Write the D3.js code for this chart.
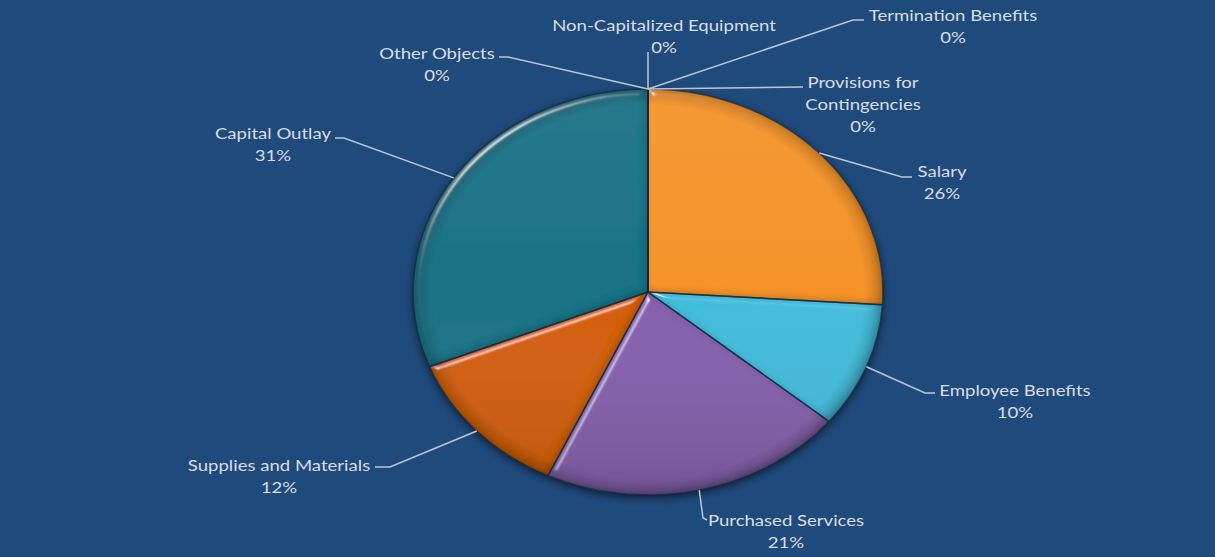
<!DOCTYPE html>
<html>
<head>
<meta charset="utf-8">
<script src="https://cdn.jsdelivr.net/npm/d3@7"></script>
<style>
  html, body { margin: 0; padding: 0; background: #1F4A7C; }
  svg { display: block; }
</style>
</head>
<body>
<svg id="chart" width="1215" height="557"></svg>
<script>
// Budget shares by object category, clockwise from 12 o'clock
const categories = [
  "Salary",
  "Employee Benefits",
  "Purchased Services",
  "Supplies and Materials",
  "Capital Outlay",
  "Other Objects",
  "Non-Capitalized Equipment",
  "Termination Benefits",
  "Provisions for Contingencies"
];
const shares = [26, 10, 21, 12, 31, 0, 0, 0, 0];
const percentLabels = ["26%", "10%", "21%", "12%", "31%", "0%", "0%", "0%", "0%"];
const sliceColors = ["#F5932C", "#42BCDB", "#8460AC", "#D45E08", "#1D7286", "#1D7286", "#1D7286", "#1D7286", "#1D7286"];

const W = 1215, H = 557;
const cx = 648, cy = 292;
const R = 203;          // vertical radius
const stretchX = 1.157; // pie is drawn as an ellipse, wider than tall
const textStretch = 1.16;

// Label blocks: name lines, anchor, and leader-line route
const labelLayout = {
  "Salary":                       { lines: ["Salary"], x: 942, y: 171, route: [[902, 177], [912, 177]] },
  "Employee Benefits":            { lines: ["Employee Benefits"], x: 1015, y: 390, route: [[925, 393], [935, 393]] },
  "Purchased Services":           { lines: ["Purchased Services"], x: 786, y: 520, route: [[703, 518], [707, 520]] },
  "Supplies and Materials":       { lines: ["Supplies and Materials"], x: 279, y: 465, route: [[390, 467], [375, 467]] },
  "Capital Outlay":               { lines: ["Capital Outlay"], x: 273, y: 133, route: [[344, 138], [335, 138]] },
  "Other Objects":                { lines: ["Other Objects"], x: 437, y: 53, route: [[508, 57], [499, 57]] },
  "Non-Capitalized Equipment":    { lines: ["Non-Capitalized Equipment"], x: 664, y: 25, route: [[648, 52]] },
  "Termination Benefits":         { lines: ["Termination Benefits"], x: 953, y: 15, route: [[853, 20], [864, 20]] },
  "Provisions for Contingencies": { lines: ["Provisions for", "Contingencies"], x: 863, y: 82, route: [[803, 87]] }
};

const svg = d3.select("#chart");
svg.append("rect").attr("width", W).attr("height", H).attr("fill", "#1F4A7C");

const defs = svg.append("defs");

// soft rounded bevel on each slice: light catches the upper-left edges,
// an inner shadow darkens the lower-right edges
const bevel = defs.append("filter").attr("id", "bevel")
  .attr("x", "-10%").attr("y", "-10%").attr("width", "120%").attr("height", "120%");
bevel.append("feGaussianBlur").attr("in", "SourceAlpha").attr("stdDeviation", 3).attr("result", "blur");
const spec = bevel.append("feSpecularLighting").attr("in", "blur")
  .attr("surfaceScale", 5).attr("specularConstant", 1.2).attr("specularExponent", 45)
  .attr("lighting-color", "#ffffff").attr("result", "spec");
spec.append("feDistantLight").attr("azimuth", 235).attr("elevation", 25);
bevel.append("feComposite").attr("in", "spec").attr("in2", "SourceAlpha").attr("operator", "in").attr("result", "specIn");
bevel.append("feOffset").attr("in", "blur").attr("dx", -3).attr("dy", -3).attr("result", "shifted");
bevel.append("feComposite").attr("in", "SourceAlpha").attr("in2", "shifted").attr("operator", "out").attr("result", "innerMask");
bevel.append("feFlood").attr("flood-color", "#000000").attr("flood-opacity", 0.35).attr("result", "dark");
bevel.append("feComposite").attr("in", "dark").attr("in2", "innerMask").attr("operator", "in").attr("result", "innerShadow");
bevel.append("feComposite").attr("in", "SourceGraphic").attr("in2", "specIn")
  .attr("operator", "arithmetic").attr("k1", 0).attr("k2", 1).attr("k3", 0.7).attr("k4", 0).attr("result", "lit");
const bm = bevel.append("feMerge");
bm.append("feMergeNode").attr("in", "lit");
bm.append("feMergeNode").attr("in", "innerShadow");

// shadow under the pie
const shadow = defs.append("filter").attr("id", "pieShadow")
  .attr("x", "-20%").attr("y", "-20%").attr("width", "140%").attr("height", "140%");
shadow.append("feGaussianBlur").attr("in", "SourceAlpha").attr("stdDeviation", 4).attr("result", "b");
shadow.append("feOffset").attr("in", "b").attr("dx", 0).attr("dy", 3).attr("result", "o");
shadow.append("feComponentTransfer").attr("in", "o").attr("result", "s")
  .append("feFuncA").attr("type", "linear").attr("slope", 0.6);
const sm = shadow.append("feMerge");
sm.append("feMergeNode").attr("in", "s");
sm.append("feMergeNode").attr("in", "SourceGraphic");

// top-to-bottom shading over the whole disc
const shade = defs.append("linearGradient").attr("id", "shade")
  .attr("x1", 0).attr("y1", 0).attr("x2", 0).attr("y2", 1);
shade.append("stop").attr("offset", "0%").attr("stop-color", "#ffffff").attr("stop-opacity", 0.05);
shade.append("stop").attr("offset", "50%").attr("stop-color", "#ffffff").attr("stop-opacity", 0);
shade.append("stop").attr("offset", "100%").attr("stop-color", "#000000").attr("stop-opacity", 0.12);

// dark inner rim along the disc's edge
const rim = defs.append("radialGradient").attr("id", "rim");
rim.append("stop").attr("offset", "92%").attr("stop-color", "#000000").attr("stop-opacity", 0);
rim.append("stop").attr("offset", "100%").attr("stop-color", "#000000").attr("stop-opacity", 0.18);

const data = categories.map((name, i) => ({ name, value: shares[i], pct: percentLabels[i], color: sliceColors[i] }));

const pie = d3.pie().value(d => d.value).sort(null).startAngle(0).endAngle(2 * Math.PI);
const arcs = pie(data);
const arc = d3.arc().innerRadius(0).outerRadius(R);

const pieG = svg.append("g")
  .attr("transform", `translate(${cx},${cy}) scale(${stretchX},1)`);

const disc = pieG.append("g").attr("filter", "url(#pieShadow)");
disc.selectAll("path.slice")
  .data(arcs.filter(a => a.data.value > 0))
  .join("path")
  .attr("class", "slice")
  .attr("d", arc)
  .attr("fill", d => d.data.color)
  .attr("filter", "url(#bevel)");

disc.append("circle").attr("r", R).attr("fill", "url(#shade)");
disc.append("circle").attr("r", R).attr("fill", "url(#rim)");

// slice separators and outline
pieG.selectAll("path.edge")
  .data(arcs)
  .join("path")
  .attr("class", "edge")
  .attr("d", arc)
  .attr("fill", "none")
  .attr("stroke", "#10283C")
  .attr("stroke-opacity", 0.7)
  .attr("stroke-width", 1.4)
  .attr("vector-effect", "non-scaling-stroke");

// point on the elliptical rim at a given angle
function rimPoint(angle) {
  return [cx + R * stretchX * Math.sin(angle), cy - R * Math.cos(angle)];
}

const labelG = svg.append("g");
const lineGen = d3.line();

arcs.forEach(a => {
  const lay = labelLayout[a.data.name];
  const mid = a.data.value > 0 ? (a.startAngle + a.endAngle) / 2 : 0;
  const start = rimPoint(mid);
  labelG.append("path")
    .attr("d", lineGen([start, ...lay.route]))
    .attr("fill", "none")
    .attr("stroke", "#BCC6D3")
    .attr("stroke-width", 1.5);

  const t = labelG.append("text")
    .attr("transform", `translate(${lay.x},0) scale(${textStretch},1)`)
    .attr("text-anchor", "middle")
    .attr("font-family", "Lato, 'Open Sans', sans-serif")
    .attr("font-size", 16)
    .attr("fill", "#D9DDE3");
  [...lay.lines, a.data.pct].forEach((s, k) => {
    t.append("tspan")
      .attr("x", 0)
      .attr("y", lay.y + k * 22)
      .attr("dy", "0.35em")
      .text(s);
  });
});
</script>
</body>
</html>
